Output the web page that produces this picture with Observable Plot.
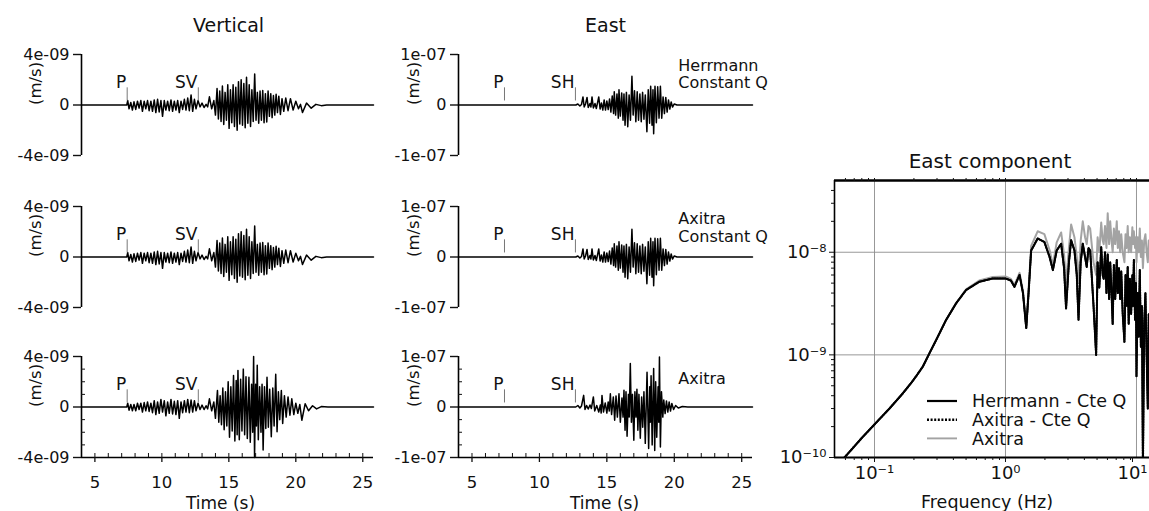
<!DOCTYPE html>
<html>
<head>
<meta charset="utf-8">
<script src="https://cdn.jsdelivr.net/npm/d3@7"></script>
<script src="https://cdn.jsdelivr.net/npm/@observablehq/plot@0.6"></script>
<style>
  body { margin: 0; background: #fff; }
  #page { position: relative; width: 1149px; height: 511px; overflow: hidden; background: #fff;
          font-family: "DejaVu Sans", sans-serif; color: #111; }
  #page > svg, #page > figure { position: absolute; margin: 0; }
</style>
</head>
<body>
<div id="page"></div>
<script>
// ---------------- DATA ----------------
// Time axis (s)
const timeDomain = [4, 25.8];
const timeTicks = [5, 10, 15, 20, 25];
const timeMinorTicks = [5,6,7,8,9,10,11,12,13,14,15,16,17,18,19,20,21,22,23,24,25];

// Amplitude ticks
const vertTicks = [4e-9, 0, -4e-9];
const vertTickLabels = ["4e-09", "0", "-4e-09"];
const vertMinorTicks = [3e-9, 2e-9, 1e-9, -1e-9, -2e-9, -3e-9];
const eastTicks = [1e-7, 0, -1e-7];
const eastTickLabels = ["1e-07", "0", "-1e-07"];
const eastMinorTicks = [7.5e-8, 5e-8, 2.5e-8, -2.5e-8, -5e-8, -7.5e-8];

// Phase picks (s)
const vertPhaseNames = ["P", "SV"];
const vertPhaseTimes = [7.41, 12.72];
const eastPhaseNames = ["P", "SH"];
const eastPhaseTimes = [7.41, 12.67];

// Model labels
const row1Labels = ["Herrmann", "Constant Q"];
const row2Labels = ["Axitra", "Constant Q"];
const row3Labels = ["Axitra"];

// Seismogram extrema [time s, velocity nm/s]
const vertHerrmann = [[4,0],[7.38,0],[7.45,0.35],[7.55,-0.3],[7.68,0.2],[7.8,-0.4],[7.92,0.25],[8.05,-0.35],[8.18,0.3],[8.3,-0.25],[8.43,0.35],[8.55,-0.5],[8.68,0.3],[8.8,-0.3],[8.93,0.35],[9.05,-0.45],[9.18,0.3],[9.3,-0.5],[9.43,0.4],[9.55,-0.6],[9.68,0.45],[9.8,-0.55],[9.93,0.35],[10.05,-0.9],[10.18,0.35],[10.3,-0.4],[10.43,0.3],[10.55,-0.45],[10.68,0.4],[10.8,-0.5],[10.93,0.3],[11.05,-0.4],[11.18,0.35],[11.3,-0.6],[11.43,0.3],[11.55,-0.35],[11.68,0.45],[11.8,-0.4],[11.93,0.55],[12.05,-0.45],[12.18,0.8],[12.3,-0.5],[12.43,0.45],[12.55,-0.3],[12.7,0.35],[12.85,-0.15],[13.0,0.15],[13.15,-0.2],[13.3,0.05],[13.42,-0.15],[13.55,0.65],[13.72,-0.3],[13.88,0.35],[14.0,-0.8],[14.12,1.3],[14.22,-1.1],[14.32,1.1],[14.42,-1.3],[14.52,1.5],[14.62,-1.55],[14.72,1.0],[14.82,-1.2],[14.92,1.6],[15.02,-1.85],[15.12,1.2],[15.22,-1.4],[15.32,1.6],[15.42,-1.7],[15.52,1.4],[15.62,-2.0],[15.72,1.85],[15.82,-1.5],[15.92,2.0],[16.02,-1.6],[16.12,1.7],[16.22,-1.8],[16.32,2.2],[16.42,-1.45],[16.52,1.6],[16.62,-1.7],[16.72,1.2],[16.82,-1.3],[16.93,2.45],[17.03,-1.2],[17.13,1.0],[17.23,-1.45],[17.33,1.1],[17.43,-1.2],[17.53,1.15],[17.63,-1.4],[17.73,0.9],[17.83,-1.35],[17.93,1.1],[18.03,-0.9],[18.13,0.9],[18.23,-1.0],[18.33,0.75],[18.43,-0.8],[18.53,0.85],[18.63,-0.6],[18.73,0.7],[18.85,-0.75],[18.97,0.5],[19.1,-0.5],[19.25,0.55],[19.42,-0.45],[19.6,0.5],[19.8,-0.4],[20.0,0.3],[20.2,-0.3],[20.35,0.05],[20.5,-0.6],[20.8,0.15],[21.15,-0.25],[21.5,0.05],[21.9,-0.05],[22.3,0],[25.8,0]];
const vertAxitraCteQ = [[4,0],[7.38,0],[7.45,0.35],[7.55,-0.3],[7.68,0.2],[7.8,-0.4],[7.92,0.25],[8.05,-0.35],[8.18,0.3],[8.3,-0.25],[8.43,0.35],[8.55,-0.5],[8.68,0.3],[8.8,-0.3],[8.93,0.35],[9.05,-0.45],[9.18,0.3],[9.3,-0.5],[9.43,0.4],[9.55,-0.6],[9.68,0.45],[9.8,-0.55],[9.93,0.35],[10.05,-0.9],[10.18,0.35],[10.3,-0.4],[10.43,0.3],[10.55,-0.45],[10.68,0.4],[10.8,-0.5],[10.93,0.3],[11.05,-0.4],[11.18,0.35],[11.3,-0.6],[11.43,0.3],[11.55,-0.35],[11.68,0.45],[11.8,-0.4],[11.93,0.55],[12.05,-0.45],[12.18,0.8],[12.3,-0.5],[12.43,0.45],[12.55,-0.3],[12.7,0.35],[12.85,-0.15],[13.0,0.15],[13.15,-0.2],[13.3,0.05],[13.42,-0.15],[13.55,0.65],[13.72,-0.3],[13.88,0.35],[14.0,-0.8],[14.12,1.3],[14.22,-1.1],[14.32,1.1],[14.42,-1.3],[14.52,1.5],[14.62,-1.55],[14.72,1.0],[14.82,-1.2],[14.92,1.6],[15.02,-1.85],[15.12,1.2],[15.22,-1.4],[15.32,1.6],[15.42,-1.7],[15.52,1.4],[15.62,-2.0],[15.72,1.85],[15.82,-1.5],[15.92,2.0],[16.02,-1.6],[16.12,1.7],[16.22,-1.8],[16.32,2.2],[16.42,-1.45],[16.52,1.6],[16.62,-1.7],[16.72,1.2],[16.82,-1.3],[16.93,2.45],[17.03,-1.2],[17.13,1.0],[17.23,-1.45],[17.33,1.1],[17.43,-1.2],[17.53,1.15],[17.63,-1.4],[17.73,0.9],[17.83,-1.35],[17.93,1.1],[18.03,-0.9],[18.13,0.9],[18.23,-1.0],[18.33,0.75],[18.43,-0.8],[18.53,0.85],[18.63,-0.6],[18.73,0.7],[18.85,-0.75],[18.97,0.5],[19.1,-0.5],[19.25,0.55],[19.42,-0.45],[19.6,0.5],[19.8,-0.4],[20.0,0.3],[20.2,-0.3],[20.35,0.05],[20.5,-0.6],[20.8,0.15],[21.15,-0.25],[21.5,0.05],[21.9,-0.05],[22.3,0],[25.8,0]];
const vertAxitra = [[4,0],[7.38,0],[7.45,0.3],[7.55,-0.25],[7.68,0.2],[7.8,-0.3],[7.92,0.2],[8.05,-0.3],[8.18,0.3],[8.3,-0.2],[8.43,0.3],[8.55,-0.4],[8.68,0.35],[8.8,-0.3],[8.93,0.4],[9.05,-0.35],[9.18,0.3],[9.3,-0.45],[9.43,0.5],[9.55,-0.6],[9.68,0.4],[9.8,-0.5],[9.93,0.6],[10.05,-0.4],[10.18,0.5],[10.3,-0.7],[10.43,0.4],[10.55,-0.5],[10.68,0.6],[10.8,-0.55],[10.93,0.45],[11.05,-0.6],[11.18,0.5],[11.3,-0.9],[11.43,0.4],[11.55,-0.45],[11.68,0.5],[11.8,-0.4],[11.93,0.6],[12.05,-0.45],[12.18,0.55],[12.3,-0.4],[12.43,0.5],[12.55,-0.3],[12.7,0.3],[12.85,-0.2],[13.0,0.15],[13.15,-0.2],[13.3,0.1],[13.42,-0.15],[13.55,0.65],[13.72,-0.3],[13.88,0.4],[14.0,-0.9],[14.15,1.3],[14.25,-1.2],[14.35,0.9],[14.45,-1.4],[14.55,1.5],[14.65,-1.8],[14.75,1.2],[14.85,-1.5],[14.95,2.0],[15.05,-2.4],[15.15,1.6],[15.25,-1.9],[15.35,2.5],[15.45,-2.7],[15.55,2.1],[15.62,-2.2],[15.68,2.9],[15.78,-2.6],[15.88,2.2],[15.98,-1.9],[16.08,3.0],[16.18,-2.2],[16.28,2.4],[16.38,-2.5],[16.5,2.35],[16.6,-2.8],[16.7,1.8],[16.78,-2.0],[16.85,4.0],[16.92,-4.0],[17.0,1.8],[17.06,-1.5],[17.12,3.3],[17.2,-2.6],[17.3,1.6],[17.4,-2.0],[17.48,1.8],[17.56,-3.4],[17.66,1.6],[17.76,-1.7],[17.85,2.35],[17.95,-1.6],[18.05,1.4],[18.17,-2.35],[18.28,1.5],[18.38,-1.5],[18.5,2.6],[18.6,-1.96],[18.7,1.2],[18.8,-1.0],[18.92,1.3],[19.02,-1.3],[19.15,0.9],[19.28,-0.8],[19.42,0.8],[19.56,-0.65],[19.7,0.65],[19.85,-0.6],[20.0,0.3],[20.15,-0.5],[20.3,0.2],[20.45,-1.05],[20.7,0.26],[20.95,-0.3],[21.25,0.1],[21.55,-0.15],[21.9,0.03],[22.4,0],[25.8,0]];
const eastHerrmann = [[4,0],[12.7,0],[12.85,2],[13.0,-2],[13.12,1],[13.23,16],[13.32,-4],[13.42,2],[13.53,15],[13.62,-5],[13.75,3],[13.82,-4],[13.9,16],[14.0,-6],[14.12,3],[14.22,-7],[14.4,16],[14.5,-8],[14.6,4],[14.7,-10],[14.8,10],[14.9,-10],[15.0,8],[15.1,-9],[15.2,12],[15.3,-14],[15.4,18],[15.5,-17],[15.55,26],[15.65,-20],[15.75,22],[15.85,-26],[15.9,30],[16.0,-22],[16.1,24],[16.2,-30],[16.27,22],[16.35,-40],[16.45,25],[16.55,-43],[16.65,20],[16.75,-30],[16.86,57],[16.95,-20],[17.05,28],[17.15,-33],[17.25,26],[17.35,-30],[17.45,22],[17.55,-33],[17.65,25],[17.75,-28],[17.85,20],[17.97,-53],[18.07,30],[18.17,-36],[18.25,37],[18.35,-40],[18.42,30],[18.47,-57],[18.57,37],[18.67,-35],[18.77,36],[18.87,-26],[18.97,37],[19.07,-26],[19.17,16],[19.27,-17],[19.37,15],[19.47,-14],[19.57,10],[19.67,-8],[19.77,6],[19.87,-4],[20.0,2],[20.2,0],[25.8,0]];
const eastAxitraCteQ = [[4,0],[12.7,0],[12.85,2],[13.0,-2],[13.12,1],[13.23,16],[13.32,-4],[13.42,2],[13.53,15],[13.62,-5],[13.75,3],[13.82,-4],[13.9,16],[14.0,-6],[14.12,3],[14.22,-7],[14.4,16],[14.5,-8],[14.6,4],[14.7,-10],[14.8,10],[14.9,-10],[15.0,8],[15.1,-9],[15.2,12],[15.3,-14],[15.4,18],[15.5,-17],[15.55,26],[15.65,-20],[15.75,22],[15.85,-26],[15.9,30],[16.0,-22],[16.1,24],[16.2,-30],[16.27,22],[16.35,-40],[16.45,25],[16.55,-43],[16.65,20],[16.75,-30],[16.86,55],[16.95,-20],[17.05,28],[17.15,-33],[17.25,26],[17.35,-30],[17.45,22],[17.55,-33],[17.65,25],[17.75,-28],[17.85,20],[17.97,-53],[18.07,30],[18.17,-36],[18.25,37],[18.35,-40],[18.42,30],[18.47,-57],[18.57,37],[18.67,-35],[18.77,36],[18.87,-26],[18.97,37],[19.07,-26],[19.17,16],[19.27,-17],[19.37,15],[19.47,-14],[19.57,10],[19.67,-8],[19.77,6],[19.87,-4],[20.0,2],[20.2,0],[25.8,0]];
const eastAxitra = [[4,0],[12.7,0],[12.85,3],[13.0,-2],[13.12,2],[13.28,23],[13.38,-5],[13.5,3],[13.62,-4],[13.75,4],[13.85,-3],[14.0,20],[14.1,-8],[14.25,3],[14.4,-10],[14.52,4],[14.58,-12],[14.64,23],[14.75,-10],[14.88,8],[15.0,-12],[15.1,10],[15.18,-8],[15.26,26],[15.35,-15],[15.48,20],[15.58,-26],[15.68,22],[15.78,-20],[15.9,26],[16.0,-30],[16.12,18],[16.2,-20],[16.27,33],[16.35,-46],[16.42,30],[16.5,-58],[16.6,25],[16.66,-20],[16.74,86],[16.82,-30],[16.9,25],[17.0,-66],[17.08,30],[17.16,-20],[17.23,35],[17.3,-46],[17.38,25],[17.48,-62],[17.58,20],[17.66,-40],[17.75,30],[17.85,-72],[17.98,69],[18.1,-82],[18.18,40],[18.22,-30],[18.28,62],[18.36,-75],[18.47,76],[18.55,-86],[18.62,50],[18.7,-60],[18.8,40],[18.85,-30],[18.9,99],[18.97,-79],[19.05,30],[19.15,-20],[19.22,14],[19.32,-13],[19.42,12],[19.52,-10],[19.62,10],[19.72,-8],[19.82,7],[19.95,-5],[20.1,3],[20.3,-2],[20.6,1],[21,0],[25.8,0]];

// Spectrum (frequency Hz, amplitude in 1e-9 units)
const specFreq = [0.059,0.08,0.1,0.13,0.164,0.19,0.208,0.234,0.263,0.296,0.352,0.42,0.5,0.63,0.8,1.0,1.1,1.17,1.28,1.36,1.44,1.5,1.57,1.76,1.98,2.17,2.3,2.46,2.66,2.8,2.9,3.05,3.17,3.36,3.5,3.61,3.75,3.89,4.05,4.17,4.3,4.43,4.55,4.7,4.92,5.05,5.2,5.38,5.52,5.62,5.75,5.9,6.03,6.18,6.3,6.45,6.58,6.72,6.88,7.07,7.2,7.35,7.5,7.65,7.85,8.09,8.25,8.4,8.57,8.72,8.9,9.1,9.3,9.4,9.55,9.75,9.9,10.0,10.2,10.4,10.6,10.8,11.0,11.2,11.45,11.7,11.95,12.2,12.4,12.6];
const specHerrmannCteQ = [0.10,0.155,0.21,0.30,0.42,0.53,0.62,0.77,1.04,1.40,2.19,3.18,4.28,5.15,5.55,5.55,5.3,4.6,6.0,4.0,1.82,4.0,10.4,13.6,12.6,9.0,6.7,10.4,12.1,7.0,2.84,8.0,13.1,10.4,6.0,2.2,8.0,12.1,9.0,7.2,11.0,10.4,6.0,3.0,1.0,8.0,4.5,11.2,6.0,5.5,10.0,4.0,9.5,3.5,8.0,4.0,2.0,7.5,3.5,8.4,4.0,7.0,3.5,6.5,2.5,1.34,6.0,3.0,7.2,2.0,5.5,2.5,6.0,3.0,8.4,2.2,5.0,0.62,4.0,1.5,6.7,1.2,3.0,0.08,2.0,4.0,1.0,0.3,2.5,1.5];
const specAxitraCteQ = [0.10,0.155,0.21,0.30,0.42,0.53,0.62,0.77,1.04,1.40,2.19,3.18,4.28,5.15,5.55,5.55,5.3,4.6,6.0,4.0,1.82,4.0,10.4,13.6,12.6,9.0,6.7,10.4,12.1,7.0,2.84,8.0,13.1,10.4,6.0,2.2,8.0,12.1,9.0,7.2,11.0,10.4,6.0,3.0,1.0,8.0,4.5,11.2,6.0,5.5,10.0,4.0,9.5,3.5,8.0,4.0,2.0,7.5,3.5,8.4,4.0,7.0,3.5,6.5,2.5,1.34,6.0,3.0,7.2,2.0,5.5,2.5,6.0,3.0,8.4,2.2,5.0,0.62,4.0,1.5,6.7,1.2,3.0,0.08,2.0,4.0,1.0,0.3,2.5,1.5];
const specAxitra = [0.10,0.155,0.21,0.30,0.42,0.53,0.62,0.77,1.04,1.40,2.19,3.2,4.35,5.3,5.75,5.8,5.5,4.8,6.3,4.2,1.9,4.3,11.5,16.0,15.0,10.5,7.5,12.5,15.6,9.5,5.0,11.0,18.6,14.0,9.0,5.0,13.0,20.0,14.0,12.0,18.0,17.0,12.0,8.0,6.0,14.0,10.0,19.5,13.0,12.0,18.0,11.0,24.0,12.0,20.0,13.0,10.0,17.0,12.0,20.0,11.0,16.0,10.0,15.0,10.0,8.0,15.0,11.0,18.0,10.0,14.0,10.0,17.5,12.0,16.0,11.0,14.0,8.0,14.0,10.0,17.0,9.0,13.0,7.0,13.0,15.0,10.0,8.0,13.0,12.0];

const specTicksX = [0.1, 1, 10];
const specTickLabelsX = ["10⁻¹", "10⁰", "10¹"];
const specMinorX = [0.06,0.07,0.08,0.09,0.2,0.3,0.4,0.5,0.6,0.7,0.8,0.9,2,3,4,5,6,7,8,9];
const specTicksY = [1e-10, 1e-9, 1e-8];
const specTickLabelsY = ["10⁻¹⁰", "10⁻⁹", "10⁻⁸"];
const specMinorY = [2e-10,3e-10,4e-10,5e-10,6e-10,7e-10,8e-10,9e-10,2e-9,3e-9,4e-9,5e-9,6e-9,7e-9,8e-9,9e-9,2e-8,3e-8,4e-8];
const legendLabels = ["Herrmann - Cte Q", "Axitra - Cte Q", "Axitra"];

// ---------------- DRAWING ----------------
const FONT = "DejaVu Sans";
const page = document.getElementById("page");
function place(node, left, top) {
  node.style.position = "absolute";
  node.style.left = left + "px";
  node.style.top = top + "px";
  page.appendChild(node);
}

function seismo(cfg) {
  const {trace, lim, ticks, tickLabels, minorTicks, phaseNames, phaseTimes, notes, noteLevels,
         left, top, mL, mR, bottom, ylabDx, timeDx} = cfg;
  const width = 380, mT = 14, frameH = 101;
  const mB = bottom ? 55 : 15;
  const data = trace.map(([t, v]) => ({t, v: v * 1e-9}));
  const phases = phaseNames.map((name, i) => ({name, t: phaseTimes[i]}));
  const noteData = notes.map((text, i) => ({text, t: 20.3, y: noteLevels[i] * lim}));
  const marks = [
    Plot.ruleX([timeDomain[0]], {stroke: "#000", strokeWidth: 1.6}),
    Plot.axisY({ticks, tickFormat: d => tickLabels[ticks.indexOf(d)], tickSize: 8, tickPadding: 4,
                fontSize: 16, label: null, strokeWidth: 1.4}),
    Plot.line(data, {x: "t", y: "v", stroke: "#000", strokeWidth: 1.5}),
    Plot.ruleX(phases, {x: "t", y1: 0.08 * lim, y2: 0.34 * lim, stroke: "#777", strokeWidth: 1}),
    Plot.text(phases, {x: "t", y: 0.34 * lim, text: "name", textAnchor: "end", lineAnchor: "bottom",
                       dx: -1, fontSize: 17, fill: "#111"}),
    Plot.text(noteData, {x: "t", y: "y", text: "text", textAnchor: "start", lineAnchor: "bottom",
                         fontSize: 16, fill: "#111"}),
    Plot.text(["(m/s)"], {text: d => d, frameAnchor: "left", rotate: -90, dx: ylabDx, fontSize: 16.5, fill: "#111"})
  ];
  if (bottom) {
    marks.push(
      Plot.ruleY([-lim], {stroke: "#000", strokeWidth: 1.6}),
      Plot.axisX({ticks: timeTicks, tickSize: 5, tickPadding: 14, fontSize: 16.5, label: null, strokeWidth: 1.3}),
      Plot.axisX({ticks: timeMinorTicks, tickSize: -4, tickFormat: () => "", label: null}),
      Plot.axisY({ticks: minorTicks, tickSize: -4, tickFormat: () => "", label: null}),
      Plot.text(["Time (s)"], {text: d => d, frameAnchor: "bottom", dy: 51, dx: timeDx,
                               lineAnchor: "bottom", fontSize: 17, fill: "#111"})
    );
  }
  const svg = Plot.plot({
    width, height: mT + frameH + mB,
    marginLeft: mL, marginRight: mR, marginTop: mT, marginBottom: mB,
    x: {domain: timeDomain, axis: null},
    y: {domain: [-lim, lim], axis: null},
    style: {fontFamily: FONT, fontSize: "16px", background: "transparent", overflow: "visible", color: "#111"},
    marks
  });
  place(svg, left, top);
}

const rowTops = [40, 192, 342];
const vCommon = {lim: 4e-9, ticks: vertTicks, tickLabels: vertTickLabels, minorTicks: vertMinorTicks,
                 phaseNames: vertPhaseNames, phaseTimes: vertPhaseTimes, notes: [], noteLevels: [],
                 left: 0, mL: 81, mR: 7, ylabDx: -46, timeDx: -7};
const eCommon = {lim: 1e-7, ticks: eastTicks, tickLabels: eastTickLabels, minorTicks: eastMinorTicks,
                 phaseNames: eastPhaseNames, phaseTimes: eastPhaseTimes,
                 left: 380, mL: 78, mR: 8, ylabDx: -45, timeDx: -1};

seismo({...vCommon, trace: vertHerrmann, top: rowTops[0], bottom: false});
seismo({...vCommon, trace: vertAxitraCteQ, top: rowTops[1], bottom: false});
seismo({...vCommon, trace: vertAxitra, top: rowTops[2], bottom: true});
seismo({...eCommon, trace: eastHerrmann, top: rowTops[0], bottom: false, notes: row1Labels, noteLevels: [0.68, 0.34]});
seismo({...eCommon, trace: eastAxitraCteQ, top: rowTops[1], bottom: false, notes: row2Labels, noteLevels: [0.66, 0.3]});
seismo({...eCommon, trace: eastAxitra, top: rowTops[2], bottom: true, notes: row3Labels, noteLevels: [0.46]});

// Spectrum
const specRows = specFreq.map((f, i) => ({
  f, herrmann: specHerrmannCteQ[i] * 1e-9, axitraCte: specAxitraCteQ[i] * 1e-9, axitra: specAxitra[i] * 1e-9
}));
const xDom = [0.0495, 12.57], yDom = [1e-10, 5e-8];
const spec = Plot.plot({
  width: 389, height: 341, marginLeft: 74, marginRight: 0, marginTop: 10, marginBottom: 54,
  x: {type: "log", domain: xDom, axis: null},
  y: {type: "log", domain: yDom, axis: null},
  style: {fontFamily: FONT, fontSize: "18px", background: "transparent", overflow: "visible", color: "#111"},
  marks: [
    Plot.ruleX(specTicksX, {stroke: "#8c8c8c", strokeWidth: 0.9}),
    Plot.ruleY(specTicksY.slice(1), {stroke: "#8c8c8c", strokeWidth: 0.9}),
    Plot.line(specRows, {x: "f", y: "axitra", stroke: "#a3a3a3", strokeWidth: 2, clip: true}),
    Plot.line(specRows, {x: "f", y: "herrmann", stroke: "#000", strokeWidth: 1.8, clip: true}),
    Plot.line(specRows, {x: "f", y: "axitraCte", stroke: "#000", strokeWidth: 2.1, strokeDasharray: "1.3,1.3", clip: true}),
    Plot.ruleY([yDom[1]], {stroke: "#000", strokeWidth: 2.4}),
    Plot.ruleY([yDom[0]], {stroke: "#000", strokeWidth: 2}),
    Plot.ruleX([xDom[0]], {stroke: "#000", strokeWidth: 1.6}),
    Plot.axisX({ticks: specTicksX.slice(0, 2), tickFormat: d => specTickLabelsX[specTicksX.indexOf(d)],
                tickSize: 5, tickPadding: 4, fontSize: 18, label: null}),
    Plot.axisX({ticks: specTicksX.slice(2), tickFormat: d => specTickLabelsX[specTicksX.indexOf(d)],
                tickSize: 5, tickPadding: 4, fontSize: 18, label: null, dx: -4}),
    Plot.axisX({ticks: specMinorX, tickSize: 3, tickFormat: () => "", label: null}),
    Plot.axisX({anchor: "top", ticks: [...specTicksX, ...specMinorX], tickSize: 3, tickFormat: () => "", label: null}),
    Plot.axisY({ticks: specTicksY, tickFormat: d => specTickLabelsY[specTicksY.indexOf(d)],
                tickSize: 5, tickPadding: 3, fontSize: 18, label: null}),
    Plot.axisY({ticks: specMinorY, tickSize: 3, tickFormat: () => "", label: null}),
    Plot.text(["Frequency (Hz)"], {text: d => d, frameAnchor: "bottom", dy: 50, dx: -5,
                                   lineAnchor: "bottom", fontSize: 17.5, fill: "#111"})
  ]
});
place(spec, 760, 170);

// Titles and legend overlay
const ov = d3.create("svg").attr("width", 1149).attr("height", 511)
  .style("font-family", FONT).style("pointer-events", "none");
const titles = [
  {text: "Vertical", x: 228.5, y: 32, size: 19},
  {text: "East", x: 605.5, y: 32, size: 19},
  {text: "East component", x: 990, y: 168, size: 20}
];
ov.selectAll("text.t").data(titles).join("text").attr("class", "t")
  .attr("x", d => d.x).attr("y", d => d.y).attr("text-anchor", "middle")
  .attr("font-size", d => d.size).attr("fill", "#111").text(d => d.text);
const legendStyles = [
  {stroke: "#000", width: 2.2, dash: null},
  {stroke: "#000", width: 2.4, dash: "2,1.6"},
  {stroke: "#a3a3a3", width: 1.9, dash: null}
];
const lg = ov.append("g").attr("transform", "translate(927,401)");
legendLabels.forEach((lab, i) => {
  const s = legendStyles[i];
  lg.append("line").attr("x1", 0).attr("x2", 30).attr("y1", i * 18.7).attr("y2", i * 18.7)
    .attr("stroke", s.stroke).attr("stroke-width", s.width).attr("stroke-dasharray", s.dash);
  lg.append("text").attr("x", 45).attr("y", i * 18.7 + 6.3).attr("font-size", 17.5)
    .attr("fill", "#111").text(lab);
});
place(ov.node(), 0, 0);
</script>
</body>
</html>
